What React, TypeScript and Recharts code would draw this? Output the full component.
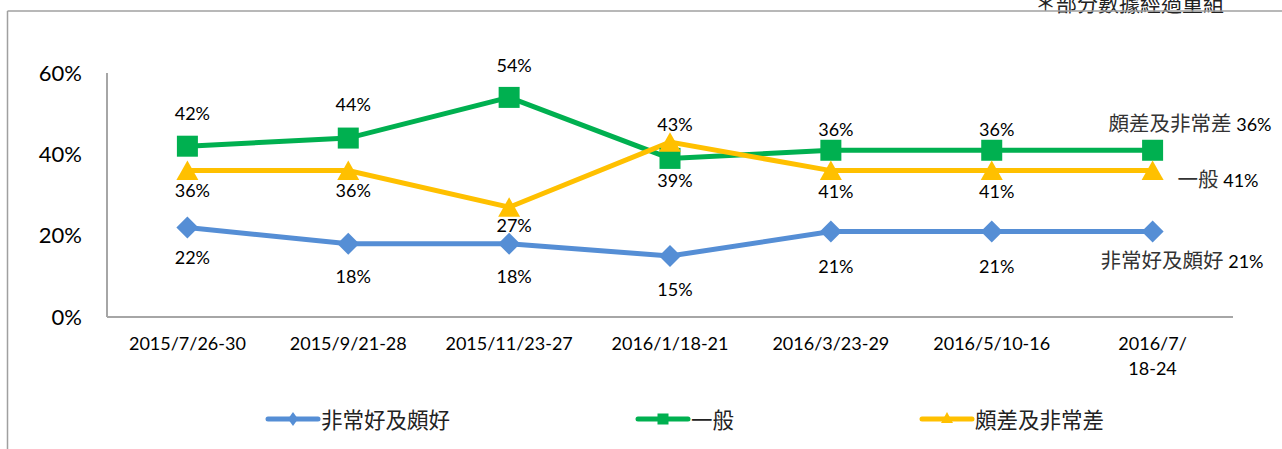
import React from "react";
import { LineChart, Line, XAxis, YAxis, LabelList } from "recharts";

const categories = [
  "2015/7/26-30",
  "2015/9/21-28",
  "2015/11/23-27",
  "2016/1/18-21",
  "2016/3/23-29",
  "2016/5/10-16",
  "2016/7/18-24",
];
const tickLines = [
  ["2015/7/26-30"],
  ["2015/9/21-28"],
  ["2015/11/23-27"],
  ["2016/1/18-21"],
  ["2016/3/23-29"],
  ["2016/5/10-16"],
  ["2016/7/", "18-24"],
];
const seriesNames = ["非常好及頗好", "一般", "頗差及非常差"];
const goodValues = [22, 18, 18, 15, 21, 21, 21];
const neutralValues = [42, 44, 54, 39, 41, 41, 41];
const badValues = [36, 36, 27, 43, 36, 36, 36];
const goodLabels = ["22%", "18%", "18%", "15%", "21%", "21%", "21%"];
const neutralLabels = ["42%", "44%", "54%", "39%", "36%", "36%", "36%"];
const badLabels = ["36%", "36%", "27%", "43%", "41%", "41%", "41%"];
const goodEndName = "非常好及頗好";
const neutralEndName = "頗差及非常差";
const badEndName = "一般";
const yTicks = [0, 20, 40, 60];
const note = "＊部分數據經過重組";

const BLUE = "#558ED5";
const GREEN = "#00B050";
const YELLOW = "#FFC000";
const AXIS = "#A6A6A6";
const FONT = "Lato, 'Noto Sans CJK TC', sans-serif";
const CJK = "'Noto Sans CJK TC', sans-serif";

const data = categories.map((c, i) => ({
  cat: c,
  good: goodValues[i],
  neutral: neutralValues[i],
  bad: badValues[i],
}));

// label layout (style): vertical offsets per point, end-note offsets
const goodDy = [30, 33, 33, 34, 35, 35, 0];
const neutralDy = [-33, -33, -32, 22, -21, -21, 0];
const badDy = [20, 20, 18, -17, 21, 21, 0];
const goodEnd = { dx: -52, dy: 31 };
const neutralEnd = { dx: -44, dy: -25 };
const badEnd = { dx: 25, dy: 11 };

function makeLabel(
  texts: string[],
  dys: number[],
  endName: string,
  end: { dx: number; dy: number }
) {
  return (p: any) => {
    const x = p.x ?? p.viewBox?.x;
    const y = p.y ?? p.viewBox?.y;
    const index = p.index;
    if (x == null || y == null || index == null) return null;
    if (index === texts.length - 1) {
      return (
        <text
          x={x + end.dx}
          y={y + end.dy}
          dy="0.35em"
          textAnchor="start"
          fill="#000"
          fontFamily={FONT}
        >
          <tspan fontFamily={CJK} fontSize={20.5} fill="#333">
            {endName}
          </tspan>
          <tspan fontSize={18}> {texts[index]}</tspan>
        </text>
      );
    }
    return (
      <text
        x={x + 5}
        y={y + dys[index]}
        dy="0.35em"
        textAnchor="middle"
        fontSize={18}
        fill="#000"
        fontFamily={FONT}
      >
        {texts[index]}
      </text>
    );
  };
}

const DiamondDot = (p: any) => {
  const { cx, cy } = p;
  if (cx == null || cy == null) return <g />;
  return (
    <path
      d={`M${cx},${cy - 11}L${cx + 11},${cy}L${cx},${cy + 11}L${cx - 11},${cy}Z`}
      fill={BLUE}
    />
  );
};
const SquareDot = (p: any) => {
  const { cx, cy } = p;
  if (cx == null || cy == null) return <g />;
  return <rect x={cx - 10.5} y={cy - 10.5} width={21} height={21} fill={GREEN} />;
};
const TriangleDot = (p: any) => {
  const { cx, cy } = p;
  if (cx == null || cy == null) return <g />;
  return (
    <path
      d={`M${cx},${cy - 10}L${cx + 11},${cy + 9.5}L${cx - 11},${cy + 9.5}Z`}
      fill={YELLOW}
    />
  );
};

const XTick = (p: any) => {
  const { x, y, index } = p;
  const lines = tickLines[index] ?? [p.payload?.value];
  return (
    <text x={x} y={y + 33} textAnchor="middle" fontSize={18} fill="#000" fontFamily={FONT}>
      {lines.map((l: string, i: number) => (
        <tspan key={i} x={x} dy={i === 0 ? 0 : 25}>
          {l}
        </tspan>
      ))}
    </text>
  );
};

const LegendIcon = ({ color, shape }: { color: string; shape: string }) => (
  <svg width={56} height={20} style={{ display: "block" }}>
    <line x1={3} y1={10} x2={53} y2={10} stroke={color} strokeWidth={5} strokeLinecap="round" />
    {shape === "diamond" && <path d="M28,3L33,10L28,17L23,10Z" fill={color} />}
    {shape === "square" && <rect x={22.5} y={4.5} width={11} height={11} fill={color} />}
    {shape === "triangle" && <path d="M28,3L34,14L22,14Z" fill={color} />}
  </svg>
);

export default function App() {
  const legendItems = [
    { name: seriesNames[0], color: BLUE, shape: "diamond" },
    { name: seriesNames[1], color: GREEN, shape: "square" },
    { name: seriesNames[2], color: YELLOW, shape: "triangle" },
  ];
  return (
    <div
      style={{
        position: "absolute",
        left: 0,
        top: 0,
        width: 1282,
        height: 449,
        background: "#fff",
        overflow: "hidden",
      }}
    >
      <LineChart
        width={1282}
        height={449}
        data={data}
        margin={{ top: 73, right: 49, bottom: 102, left: 47 }}
      >
        <XAxis
          dataKey="cat"
          interval={0}
          padding={{ left: 80.4, right: 80.4 }}
          axisLine={{ stroke: AXIS, strokeWidth: 2 }}
          tickLine={false}
          tickSize={0}
          tickMargin={0}
          height={30}
          tick={<XTick />}
        />
        <YAxis
          width={60}
          domain={[0, 60]}
          ticks={yTicks}
          tickFormatter={(v: number) => `${v}%`}
          axisLine={{ stroke: AXIS, strokeWidth: 2 }}
          tickLine={false}
          tickSize={0}
          tickMargin={25}
          tick={{ fontSize: 22, fill: "#000", fontFamily: FONT }}
        />
        <Line
          dataKey="good"
          name={seriesNames[0]}
          stroke={BLUE}
          strokeWidth={5}
          dot={DiamondDot}
          activeDot={false}
          isAnimationActive={false}
        >
          <LabelList content={makeLabel(goodLabels, goodDy, goodEndName, goodEnd)} />
        </Line>
        <Line
          dataKey="neutral"
          name={seriesNames[1]}
          stroke={GREEN}
          strokeWidth={5}
          dot={SquareDot}
          activeDot={false}
          isAnimationActive={false}
        >
          <LabelList content={makeLabel(neutralLabels, neutralDy, neutralEndName, neutralEnd)} />
        </Line>
        <Line
          dataKey="bad"
          name={seriesNames[2]}
          stroke={YELLOW}
          strokeWidth={5}
          dot={TriangleDot}
          activeDot={false}
          isAnimationActive={false}
        >
          <LabelList content={makeLabel(badLabels, badDy, badEndName, badEnd)} />
        </Line>
      </LineChart>

      <svg
        width={1282}
        height={449}
        style={{ position: "absolute", left: 0, top: 0, pointerEvents: "none" }}
      >
        <text x={1035} y={11} fontSize={21} fontFamily={CJK} fill="#222">
          {note}
        </text>
        <line x1={7.5} y1={11} x2={1282} y2={11} stroke="#A0A0A0" strokeWidth={1.5} />
        <line x1={7.5} y1={11} x2={7.5} y2={449} stroke="#A0A0A0" strokeWidth={1.5} />
      </svg>

      <div
        style={{
          position: "absolute",
          left: 265,
          top: 406,
          display: "flex",
          alignItems: "center",
          height: 26,
        }}
      >
        {legendItems.map((it, i) => (
          <div
            key={it.name}
            style={{
              display: "flex",
              alignItems: "center",
              marginRight: i < legendItems.length - 1 ? 185 : 0,
            }}
          >
            <LegendIcon color={it.color} shape={it.shape} />
            <span
              style={{
                fontFamily: CJK,
                fontSize: 21.5,
                color: "#222",
                lineHeight: "26px",
                whiteSpace: "nowrap",
              }}
            >
              {it.name}
            </span>
          </div>
        ))}
      </div>
    </div>
  );
}
